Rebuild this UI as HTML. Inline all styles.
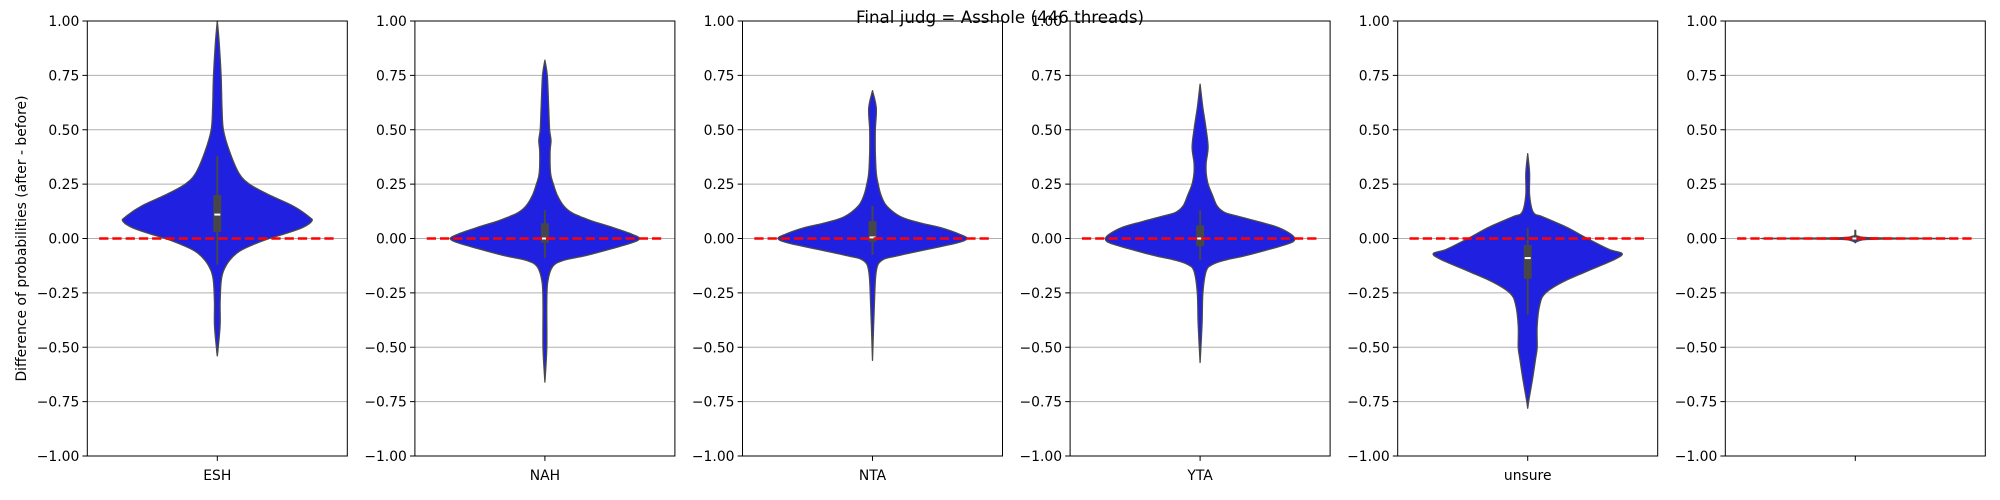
<!DOCTYPE html>
<html><head><meta charset="utf-8"><style>
body{margin:0;background:#fff;}
svg{display:block;font-family:"DejaVu Sans","Liberation Sans",sans-serif;}
</style></head><body>
<svg id="chart" width="2000" height="500" viewBox="0 0 2000 500" xmlns="http://www.w3.org/2000/svg">
<text x="1000" y="23" font-size="16.7" text-anchor="middle">Final judg = Asshole (446 threads)</text>
<text transform="translate(26,238.5) rotate(-90)" font-size="13.9" text-anchor="middle">Difference of probabilities (after - before)</text>
</svg>
<script>
const categories = ["ESH","NAH","NTA","YTA","unsure",""];
const yTicks = [1.0,0.75,0.5,0.25,0.0,-0.25,-0.5,-0.75,-1.0];
// density profiles: [value, relative width 0..1]
const profESH = [[1.0,0],[0.9,0.02],[0.75,0.04],[0.6,0.05],[0.5,0.065],[0.4,0.13],[0.3,0.23],[0.25,0.34],[0.2,0.55],[0.15,0.8],[0.1,0.97],[0.08,1.0],[0.05,0.9],[0.02,0.7],[0.0,0.55],[-0.03,0.37],[-0.06,0.23],[-0.1,0.13],[-0.15,0.065],[-0.2,0.04],[-0.3,0.03],[-0.4,0.03],[-0.5,0.01],[-0.54,0]];
const profNAH = [[0.82,0],[0.75,0.025],[0.6,0.04],[0.5,0.05],[0.45,0.065],[0.4,0.055],[0.3,0.06],[0.25,0.09],[0.2,0.13],[0.15,0.2],[0.12,0.28],[0.1,0.38],[0.08,0.5],[0.05,0.72],[0.02,0.92],[0.0,1.0],[-0.02,0.92],[-0.05,0.68],[-0.08,0.42],[-0.1,0.2],[-0.13,0.08],[-0.2,0.03],[-0.3,0.02],[-0.5,0.02],[-0.66,0]];
const profNTA = [[0.68,0],[0.6,0.04],[0.5,0.03],[0.4,0.03],[0.3,0.04],[0.25,0.06],[0.2,0.09],[0.15,0.15],[0.1,0.3],[0.07,0.52],[0.05,0.72],[0.02,0.92],[0.0,1.0],[-0.02,0.9],[-0.05,0.58],[-0.08,0.26],[-0.1,0.1],[-0.15,0.04],[-0.3,0.02],[-0.56,0]];
const profYTA = [[0.71,0],[0.6,0.03],[0.5,0.065],[0.42,0.085],[0.35,0.065],[0.3,0.065],[0.25,0.085],[0.2,0.13],[0.15,0.18],[0.12,0.26],[0.1,0.42],[0.07,0.68],[0.05,0.83],[0.02,0.96],[0.0,1.0],[-0.02,0.96],[-0.05,0.73],[-0.08,0.47],[-0.1,0.26],[-0.12,0.13],[-0.15,0.065],[-0.25,0.03],[-0.4,0.02],[-0.57,0]];
const profUnsure = [[0.39,0],[0.3,0.02],[0.2,0.02],[0.12,0.06],[0.1,0.16],[0.05,0.42],[0.0,0.63],[-0.05,0.86],[-0.07,1.0],[-0.1,0.9],[-0.15,0.63],[-0.2,0.37],[-0.25,0.19],[-0.3,0.13],[-0.4,0.1],[-0.5,0.1],[-0.55,0.085],[-0.65,0.05],[-0.75,0.01],[-0.78,0]];
const profBlank = [[0.02,0],[0.01,0.03],[0.003,0.2],[0.0,1.0],[-0.003,0.2],[-0.01,0.04],[-0.02,0]];
const profiles = [profESH,profNAH,profNTA,profYTA,profUnsure,profBlank];
const q1s = [0.03,-0.02,-0.015,-0.035,-0.185,-0.005];
const q3s = [0.2,0.07,0.08,0.06,-0.03,0.012];
const medians = [0.11,0.0,0.005,0.0,-0.09,0.0];
const whiskLo = [-0.12,-0.09,-0.075,-0.1,-0.35,-0.012];
const whiskHi = [0.38,0.13,0.15,0.13,0.05,0.04];

const NS="http://www.w3.org/2000/svg";
const svg=document.getElementById('chart');
const AX_W=260, TOP=21, BOT=456;
function axLeft(i){return 87.3+i*327.6;}
function yS(v){return TOP+(1-v)/2*(BOT-TOP);}
function xS(i,u){return axLeft(i)+(u+0.55)/1.1*AX_W;}
function mk(tag,attrs,parent){const e=document.createElementNS(NS,tag);for(const k in attrs)e.setAttribute(k,attrs[k]);(parent||svg).appendChild(e);return e;}
const fmt=v=>(v<0?'\u2212':'')+Math.abs(v).toFixed(2);
function smoothPath(pts){
  let d='M'+pts[0][0].toFixed(1)+','+pts[0][1].toFixed(1);
  for(let k=0;k<pts.length-1;k++){
    const p0=pts[Math.max(0,k-1)],p1=pts[k],p2=pts[k+1],p3=pts[Math.min(pts.length-1,k+2)];
    const c1=[p1[0]+(p2[0]-p0[0])/6,p1[1]+(p2[1]-p0[1])/6];
    const c2=[p2[0]-(p3[0]-p1[0])/6,p2[1]-(p3[1]-p1[1])/6];
    d+='C'+c1.map(v=>v.toFixed(1)).join(',')+' '+c2.map(v=>v.toFixed(1)).join(',')+' '+p2[0].toFixed(1)+','+p2[1].toFixed(1);
  }
  return d;
}

categories.forEach((cat,i)=>{
  const L=axLeft(i),R=L+AX_W;
  const g=mk('g',{});
  
  
  yTicks.forEach(t=>{
    const y=yS(t);
    const gl=mk('line',{x1:L,x2:R,y1:y,y2:y,stroke:'#b0b0b0','stroke-width':1},g);
    
    
    mk('line',{x1:L-4.9,x2:L,y1:y,y2:y,stroke:'#000','stroke-width':1},g);
    const tl=mk('text',{x:L-8,y:y+5,'font-size':13.9,'text-anchor':'end'},g);
    tl.textContent=fmt(t);
    
    
  });
  const prof=profiles[i];
  const c=xS(i,0), hw=0.4/1.1*AX_W;
  const right=prof.map(p=>[c+p[1]*hw,yS(p[0])]);
  const left=prof.slice().reverse().map(p=>[c-p[1]*hw,yS(p[0])]);
  const d=smoothPath(right)+' L'+smoothPath(left).slice(1)+'Z';
  const vp=mk('path',{d:d,fill:'#2020e0',stroke:'#4a4a4a','stroke-width':1.3,'stroke-linejoin':'round'},g);
  
  
  const wl=mk('line',{x1:c,x2:c,y1:yS(whiskHi[i]),y2:yS(whiskLo[i]),stroke:'#474747','stroke-width':2},g);
  
  
  const bx=mk('rect',{x:c-4,width:8,y:yS(q3s[i]),height:Math.max(1,yS(q1s[i])-yS(q3s[i])),fill:'#474747'},g);
  
  
  const md=mk('line',{x1:c-3,x2:c+3,y1:yS(medians[i]),y2:yS(medians[i]),stroke:'#fff','stroke-width':2},g);
  
  
  const zl=mk('line',{x1:xS(i,-0.5),x2:xS(i,0.5),y1:yS(0),y2:yS(0),stroke:'#ff0000','stroke-width':2.5,'stroke-dasharray':'9.25 4'},g);
  
  
  const fr=mk('rect',{x:L,y:TOP,width:AX_W,height:BOT-TOP,fill:'none',stroke:'#000','stroke-width':1},g);
  
  
  mk('line',{x1:c,x2:c,y1:BOT,y2:BOT+4.9,stroke:'#000','stroke-width':1},g);
  const xl=mk('text',{x:c,y:BOT+24,'font-size':13.9,'text-anchor':'middle'},g);
  xl.textContent=cat;
  
  
});
</script>
</body></html>
